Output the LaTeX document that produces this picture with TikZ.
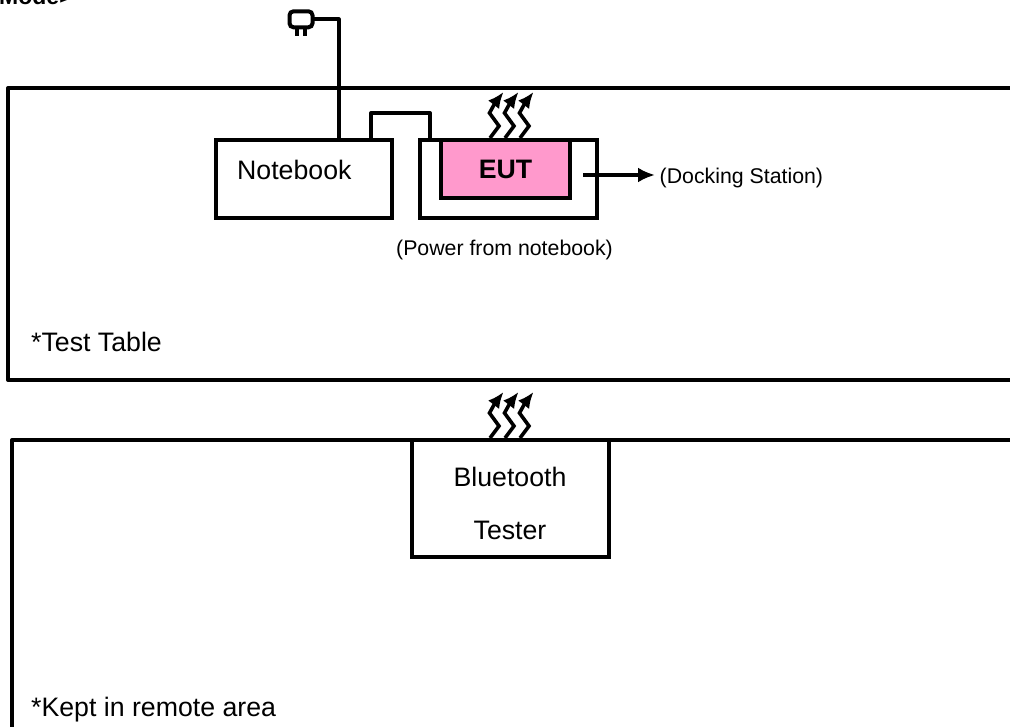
\documentclass[tikz,border=0pt]{standalone}
\usepackage{fontspec}
\setmainfont{Liberation Sans}
\usetikzlibrary{arrows.meta,positioning}
\definecolor{eutpink}{HTML}{FF99CC}
\tikzset{
  wire/.style={line width=4pt,line join=round},
  boxnode/.style={draw,line width=4pt,anchor=north west,inner sep=0pt,outer sep=0pt},
  heat/.style={line width=3.6pt,-{Latex[length=16pt,width=14pt]}},
  txtbig/.style={font=\fontsize{26.7}{30}\selectfont,inner sep=0pt},
  txtsmall/.style={font=\fontsize{21.3}{25}\selectfont,inner sep=0pt}
}
\newcommand{\heatwaves}[1]{%
  \foreach \dx in {0,15,30}{
    \draw[heat] (490+\dx,#1) -- (499+\dx,#1-12) -- (489.5+\dx,#1-25) -- (495+\dx,#1-35) -- (503.5+\dx,#1-46);
  }}
\begin{document}
\begin{tikzpicture}[x=1pt,y=-1pt]
\clip (0,0) rectangle (1010,727);
\node[anchor=base west,inner sep=0pt,font=\fontsize{23}{27}\selectfont\bfseries] (title) at (-1,5) {Mode>};
% table and remote area
\draw[wire] (1020,88) -- (8,88) -- (8,380) -- (1020,380);
\draw[wire] (1020,440) -- (12,440) -- (12,740);
% boxes
\node[boxnode,minimum width=176pt,minimum height=78pt] (notebook) at (216,140) {};
\node[boxnode,minimum width=177pt,minimum height=78pt] (dock) at (420,140) {};
\node[boxnode,fill=eutpink,minimum width=129pt,minimum height=58pt,font=\fontsize{26.7}{30}\selectfont\bfseries] (eut) at (441,140) {EUT};
\node[boxnode,fill=white,minimum width=197pt,minimum height=117pt] (tester) at (412,440) {};
% labels
\node[txtbig,anchor=west] (nblabel) at (237,170) {Notebook};
\node[txtsmall,anchor=west] (docklabel) at (659.5,178) {(Docking Station)};
\node[txtsmall] (powerlabel) at (504.5,250) {(Power from notebook)};
\node[txtbig,anchor=west] (tablelabel) at (31,342) {*Test Table};
\node[txtbig,anchor=west] (remotelabel) at (31,710) {*Kept in remote area};
\node[txtbig,align=center] (testerlabel) at (510,503) {Bluetooth\\[23pt]Tester};
% plug
\node[draw,line width=4pt,rounded corners=4pt,minimum width=23pt,minimum height=16pt,inner sep=0pt,outer sep=0pt] (plug) at (301,19.3) {};
\draw[line width=3.3pt] (297,28) -- (297,36);
\draw[line width=3.3pt] (305,28) -- (305,36);
% cables
\coordinate (plugdrop) at (338.5,140);
\coordinate (nbport) at (371,140);
\coordinate (dockport) at (430,140);
\coordinate (dockout) at (583,175);
\draw[wire] (plug.east) -| (plugdrop);
\draw[wire] (nbport) -- (371,113) -- (430,113) -- (dockport);
\draw[wire,-{Latex[length=17pt,width=15pt]}] (dockout) -- (655,175);
% heat waves
\heatwaves{138}
\heatwaves{438}
\end{tikzpicture}
\end{document}
